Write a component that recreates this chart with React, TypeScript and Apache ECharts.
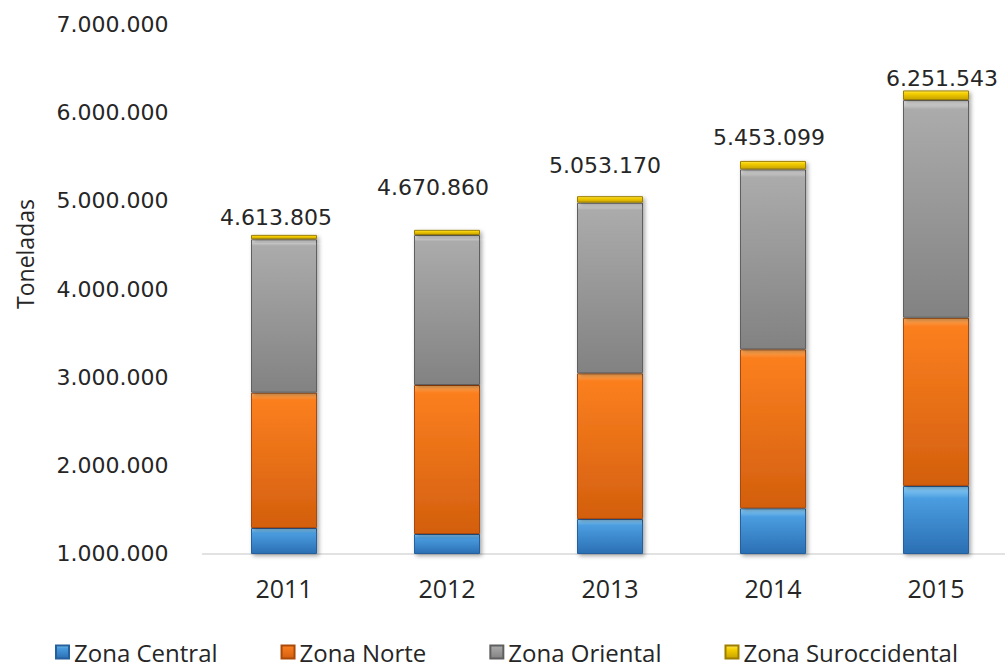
import React, { useEffect, useRef } from "react";
import * as echarts from "echarts";

const YEARS = ["2011", "2012", "2013", "2014", "2015"];
const ZONA_CENTRAL = [1289000, 1221000, 1391000, 1513000, 1766000];
const ZONA_NORTE = [1535000, 1690000, 1653000, 1803000, 1908000];
const ZONA_ORIENTAL = [1740000, 1701000, 1935000, 2041000, 2469000];
const ZONA_SUROCCIDENTAL = [50000, 59000, 74000, 96000, 109000];
const TOTALS = [4613805, 4670860, 5053170, 5453099, 6251543];
const Y_TICKS = [1000000, 2000000, 3000000, 4000000, 5000000, 6000000, 7000000];

// label placement tweaks (styling, not data)
const LABEL_OFFSETS: [number, number][] = [
  [-8, -6],
  [-14, -31],
  [-5, -20],
  [-4, -12],
  [6, -1],
];

const fmt = (v: number) => String(Math.round(v)).replace(/\B(?=(\d{3})+(?!\d))/g, ".");

const grad = (top: string, hi: number, mid: string, bottom: string) =>
  new echarts.graphic.LinearGradient(0, 0, 0, 1, [
    { offset: 0, color: top },
    { offset: hi, color: mid },
    { offset: 1, color: bottom },
  ]);

const SANS_WIDE = "'DejaVu Sans', sans-serif";
const SANS = "'Open Sans', sans-serif";

export default function App() {
  const ref = useRef<HTMLDivElement>(null);
  useEffect(() => {
    if (!ref.current) return;
    const chart = echarts.init(ref.current, undefined, { renderer: "svg" });
    const shadow = {
      shadowColor: "rgba(0,0,0,0.35)",
      shadowBlur: 4,
      shadowOffsetX: 2,
      shadowOffsetY: 2,
    };
    const mk = (name: string, data: any[], color: any, border: string, extra: any = {}) => ({
      name,
      type: "bar",
      stack: "total",
      barWidth: 66,
      data,
      itemStyle: { color, borderColor: border, borderWidth: 1, ...shadow },
      emphasis: { disabled: true },
      ...extra,
    });
    chart.setOption({
      animation: false,
      grid: { left: 202.5, top: 24.5, width: 815, height: 529 },
      xAxis: {
        type: "category",
        data: YEARS,
        axisTick: { show: false },
        axisLine: { lineStyle: { color: "#d9d9d9", width: 1.5 } },
        axisLabel: {
          margin: 22,
          fontFamily: SANS,
          fontSize: 25,
          lineHeight: 25,
          color: "#262626",
        },
      },
      yAxis: {
        type: "value",
        min: Y_TICKS[0],
        max: Y_TICKS[Y_TICKS.length - 1],
        interval: 1000000,
        name: "Toneladas",
        nameLocation: "middle",
        nameRotate: 90,
        nameGap: 166,
        nameTextStyle: {
          fontFamily: SANS,
          fontSize: 23,
          color: "#262626",
          padding: [0, 0, 0, 70],
        },
        axisLine: { show: false },
        axisTick: { show: false },
        splitLine: { show: false },
        axisLabel: {
          margin: 34,
          fontFamily: SANS_WIDE,
          fontSize: 22,
          color: "#262626",
          formatter: (v: number) => fmt(v),
        },
      },
      legend: {
        left: 55,
        top: 640,
        padding: 0,
        itemWidth: 13,
        itemHeight: 13,
        itemGap: 63,
        icon: "rect",
        textStyle: { fontFamily: SANS, fontSize: 24, color: "#262626" },
        data: ["Zona Central", "Zona Norte", "Zona Oriental", "Zona Suroccidental"],
      },
      series: [
        mk("Zona Central", ZONA_CENTRAL, grad("#8fd2fa", 0.18, "#4a9de0", "#2b6fb3"), "#25609c"),
        mk("Zona Norte", ZONA_NORTE, grad("#ffb060", 0.05, "#fb7f1f", "#d35f0e"), "#a94a08"),
        mk("Zona Oriental", ZONA_ORIENTAL, grad("#e6e6e6", 0.04, "#ababab", "#828282"), "#5f5f5f"),
        mk(
          "Zona Suroccidental",
          ZONA_SUROCCIDENTAL.map((v, i) => ({
            value: v,
            label: { offset: LABEL_OFFSETS[i] },
          })),
          grad("#ffe85a", 0.3, "#f5cf00", "#c8a200"),
          "#9c7e00",
          {
            label: {
              show: true,
              position: "top",
              distance: 0,
              fontFamily: SANS_WIDE,
              fontSize: 22,
              lineHeight: 22,
              color: "#262626",
              formatter: (p: any) => fmt(TOTALS[p.dataIndex]),
            },
          }
        ),
      ],
    });
    return () => chart.dispose();
  }, []);
  return (
    <div
      style={{
        position: "absolute",
        left: 0,
        top: 0,
        width: 1005,
        height: 667,
        overflow: "hidden",
        background: "#fff",
      }}
    >
      <div ref={ref} style={{ width: 1030, height: 667 }} />
    </div>
  );
}
